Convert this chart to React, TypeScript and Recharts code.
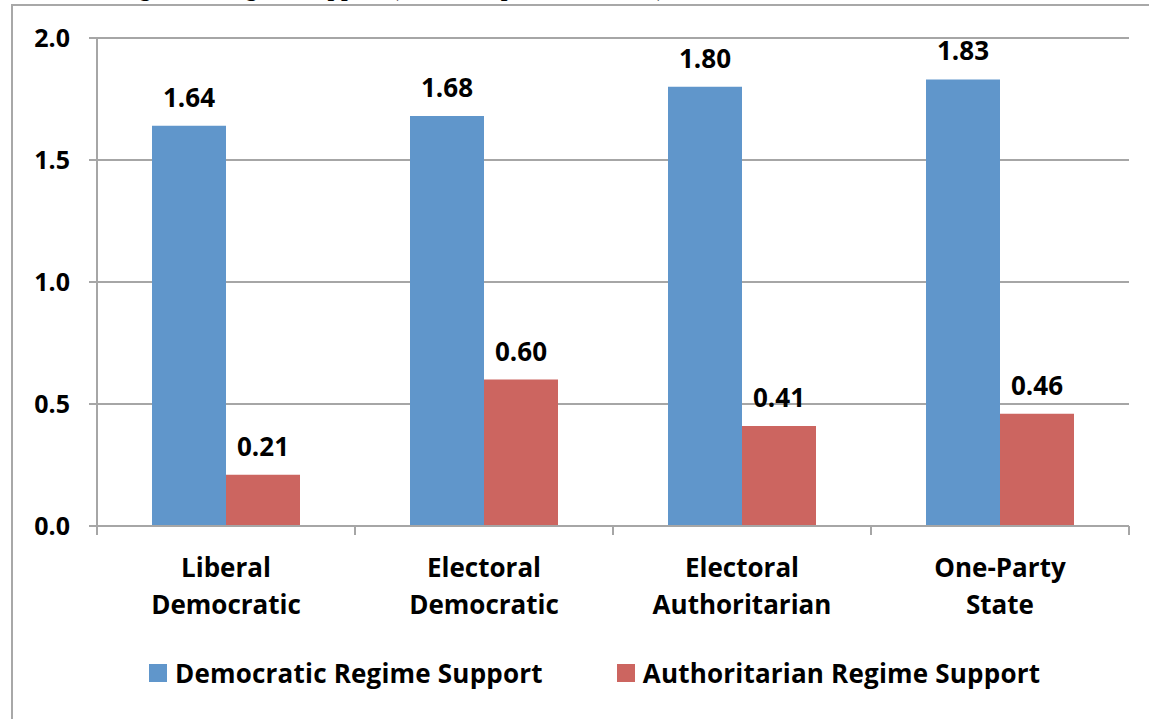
import React from "react";
import { BarChart, Bar, XAxis, YAxis, CartesianGrid, LabelList, Legend } from "recharts";

const regimeTypes = ["Liberal Democratic", "Electoral Democratic", "Electoral Authoritarian", "One-Party State"];
const democraticSupport = [1.64, 1.68, 1.8, 1.83];
const authoritarianSupport = [0.21, 0.6, 0.41, 0.46];
const yTicks = [0, 0.5, 1, 1.5, 2];
const seriesNames = ["Democratic Regime Support", "Authoritarian Regime Support"];

const BLUE = "#6096CB";
const RED = "#CC6560";
const GRID = "#a6a6a6";
const FONT = "'Open Sans', Lato, sans-serif";

const CHART_W = 1149;
const CHART_H = 719;
const MARGIN = { top: 38, right: 20, bottom: 22, left: 0 };
const Y_AXIS_W = 97;
const BAND = (CHART_W - MARGIN.left - MARGIN.right - Y_AXIS_W) / regimeTypes.length;

const data = regimeTypes.map((name, i) => ({
  name,
  democratic: democraticSupport[i],
  authoritarian: authoritarianSupport[i],
}));

// category label on two lines, with Excel-style tick marks between categories
function CategoryTick(props: any) {
  const { x, y, payload, index, visibleTicksCount } = props;
  const [first, ...rest] = String(payload.value).split(" ");
  const half = BAND / 2;
  const isLast = index === visibleTicksCount - 1;
  return (
    <g>
      <line x1={x - half} x2={x - half} y1={y} y2={y + 9} stroke={GRID} strokeWidth={2} />
      {isLast && <line x1={x + half} x2={x + half} y1={y} y2={y + 9} stroke={GRID} strokeWidth={2} />}
      <text x={x} y={y + 51} textAnchor="middle" fontFamily={FONT} fontWeight={700} fontSize={26} fill="#000">
        {first}
      </text>
      <text x={x} y={y + 88} textAnchor="middle" fontFamily={FONT} fontWeight={700} fontSize={26} fill="#000">
        {rest.join(" ")}
      </text>
    </g>
  );
}

function LegendRow() {
  const colors = [BLUE, RED];
  return (
    <div style={{ display: "flex", alignItems: "center", height: 48, paddingLeft: 149, gap: 74 }}>
      {seriesNames.map((n, i) => (
        <div key={n} style={{ display: "flex", alignItems: "center" }}>
          <span style={{ width: 18, height: 18, background: colors[i], display: "inline-block", marginRight: 8 }} />
          <span style={{ fontFamily: FONT, fontWeight: 700, fontSize: 26, letterSpacing: 0.2, color: "#000" }}>{n}</span>
        </div>
      ))}
    </div>
  );
}

export default function App() {
  const labelStyle = { fontFamily: FONT, fontWeight: 700, fontSize: 26, fill: "#000" };
  return (
    <div style={{ position: "fixed", left: 0, top: 0, width: CHART_W, height: CHART_H, overflow: "hidden", background: "#fff" }}>
      <div
        style={{
          position: "absolute",
          left: 118,
          top: -25,
          whiteSpace: "nowrap",
          fontFamily: "'Liberation Serif', serif",
          fontWeight: 700,
          fontSize: 24,
        }}
      >
        Figure 2: Regime Support (Mean Respondent Scores)
      </div>
      <div
        style={{
          position: "absolute",
          left: 11,
          top: 4,
          width: CHART_W,
          height: CHART_H,
          borderLeft: "2px solid #a8a8a8",
          borderTop: "2px solid #a8a8a8",
        }}
      />
      <div style={{ position: "absolute", left: 0, top: 0 }}>
        <BarChart width={CHART_W} height={CHART_H} data={data} margin={MARGIN} barGap={0} barSize={74}>
          <CartesianGrid vertical={false} stroke={GRID} strokeWidth={2} />
          <XAxis
            dataKey="name"
            height={123}
            tickLine={false}
            tickSize={0}
            tickMargin={0}
            axisLine={{ stroke: GRID, strokeWidth: 2 }}
            tick={<CategoryTick />}
            interval={0}
          />
          <YAxis
            width={Y_AXIS_W}
            domain={[0, 2]}
            ticks={yTicks}
            tickFormatter={(v: number) => v.toFixed(1)}
            axisLine={{ stroke: GRID, strokeWidth: 2 }}
            tickLine={{ stroke: GRID, strokeWidth: 2 }}
            tickSize={8}
            tickMargin={19}
            tick={{ fontFamily: FONT, fontWeight: 700, fontSize: 25, fill: "#000" }}
          />
          <Legend verticalAlign="bottom" height={48} content={() => <LegendRow />} />
          <Bar dataKey="democratic" name={seriesNames[0]} fill={BLUE} isAnimationActive={false}>
            <LabelList
              dataKey="democratic"
              position="top"
              offset={19}
              formatter={(v: any) => Number(v).toFixed(2)}
              style={labelStyle}
            />
          </Bar>
          <Bar dataKey="authoritarian" name={seriesNames[1]} fill={RED} isAnimationActive={false}>
            <LabelList
              dataKey="authoritarian"
              position="top"
              offset={19}
              formatter={(v: any) => Number(v).toFixed(2)}
              style={labelStyle}
            />
          </Bar>
        </BarChart>
      </div>
    </div>
  );
}
